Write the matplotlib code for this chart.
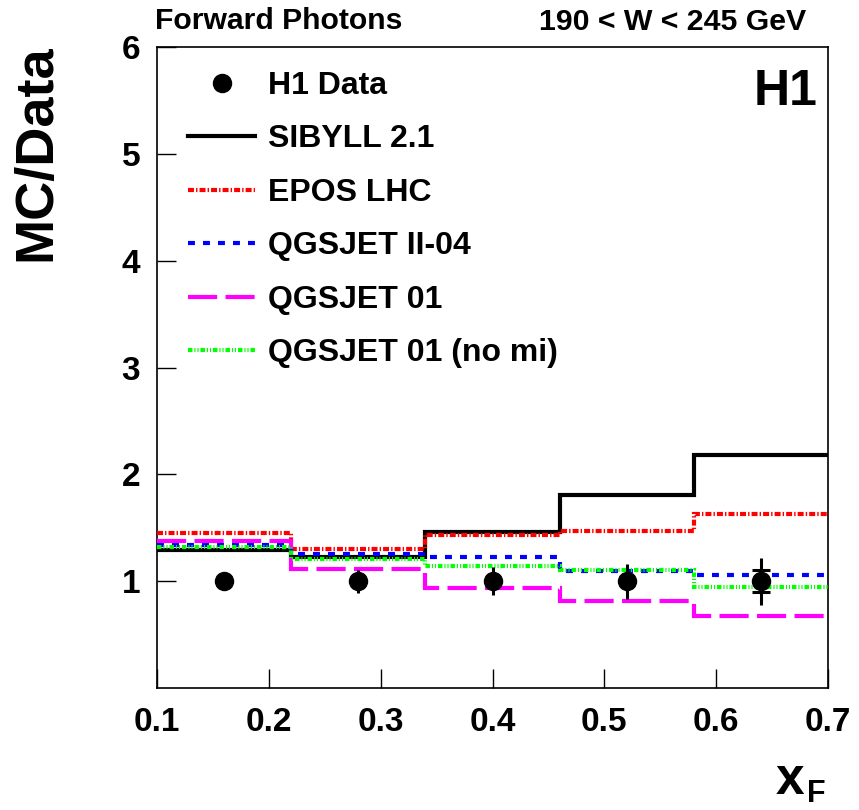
import matplotlib
matplotlib.use("Agg")
import matplotlib.pyplot as plt
import numpy as np

plt.rcParams['font.family'] = ['Liberation Sans', 'DejaVu Sans']
plt.rcParams['font.weight'] = 'bold'
plt.rcParams['lines.scale_dashes'] = False

# ---- data ----
bin_edges = [0.10, 0.22, 0.34, 0.46, 0.58, 0.70]
data_x = [0.16, 0.28, 0.40, 0.52, 0.64]
data_y = [1.0, 1.0, 1.0, 1.0, 1.0]
data_err_tot = [0.04, 0.107, 0.13, 0.165, 0.22]
data_err_stat = [0.0, 0.0, 0.0, 0.0, 0.10]

sibyll = [1.29, 1.23, 1.458, 1.81, 2.18]
epos = [1.454, 1.30, 1.435, 1.47, 1.63]
qgsjet2 = [1.336, 1.255, 1.23, 1.095, 1.055]
qgsjet01 = [1.38, 1.117, 0.94, 0.817, 0.677]
qgsjet01_nomi = [1.32, 1.21, 1.14, 1.105, 0.95]

series_labels = ["SIBYLL 2.1", "EPOS LHC", "QGSJET II-04", "QGSJET 01", "QGSJET 01 (no mi)"]
x_ticks = [0.1, 0.2, 0.3, 0.4, 0.5, 0.6, 0.7]
y_ticks = [1, 2, 3, 4, 5, 6]

fig = plt.figure(figsize=(8.59, 8.10), dpi=100)
ax = fig.add_axes([157/859, 1-688/810, (828-157)/859, (688-47)/810])

styles = [
    dict(color='black', linestyle='-', lw=3.0),
    dict(color='#ff0000', linestyle=(0, (4.3, 1.5, 1.0, 1.5)), lw=3.0),
    dict(color='#0000ff', linestyle=(0, (5.0, 5.8)), lw=3.0),
    dict(color='#ff00ff', linestyle=(0, (21, 6)), lw=3.0),
    dict(color='#00ff00', linestyle=(0, (3.2, 1.4, 0.8, 1.4, 0.8, 1.4)), lw=3.0),
]
handles = []
for vals, lab, st in zip([sibyll, epos, qgsjet2, qgsjet01, qgsjet01_nomi], series_labels, styles):
    ax.stairs(vals, bin_edges, baseline=None, **st, zorder=3)
    h, = ax.plot([], [], label=lab, **st)
    handles.append(h)

# data
ax.errorbar(data_x, data_y, yerr=data_err_tot, fmt='none', ecolor='black', elinewidth=2.2, capsize=0, zorder=5)
ax.errorbar(data_x, data_y, yerr=data_err_stat, fmt='none', ecolor='black', elinewidth=2.2, capsize=6.5, capthick=2.2, zorder=5)
hd, = ax.plot(data_x, data_y, 'o', color='black', markersize=13, zorder=6, label='H1 Data', linestyle='none')

ax.set_xlim(0.1, 0.7)
ax.set_ylim(0, 6)
ax.set_xticks(x_ticks)
ax.set_xticklabels([f"{t:.1f}" for t in x_ticks])
ax.set_yticks(y_ticks)
ax.set_yticklabels([str(t) for t in y_ticks])
ax.tick_params(axis='both', direction='in', length=14, width=1.0, labelsize=24)
ax.tick_params(axis='x', pad=14)
ax.tick_params(axis='y', pad=12)
for lbl in ax.get_xticklabels() + ax.get_yticklabels():
    lbl.set_fontweight('bold')
for s in ax.spines.values():
    s.set_linewidth(1.2)

leg = ax.legend([hd] + handles, ['H1 Data'] + series_labels, loc='upper left',
                bbox_to_anchor=(31/671, 1-24/641), frameon=False,
                handlelength=2.1, handletextpad=0.42, labelspacing=0.735, borderpad=0,
                borderaxespad=0, prop={'weight': 'bold', 'size': 23})

ax.text(0.985, 0.965, 'H1', transform=ax.transAxes, ha='right', va='top', fontsize=36, fontweight='bold')

fig.text(155/859, 1-29/810, 'Forward Photons', ha='left', va='baseline', fontsize=21.7, fontweight='bold')
fig.text(806/859, 1-30/810, '190 < W < 245 GeV', ha='right', va='baseline', fontsize=21.8, fontweight='bold')
fig.text(36/859, 1-44/810, 'MC/Data', rotation=90, ha='center', va='top', fontsize=39, fontweight='bold')
fig.text(776/859, 1-794/810, 'x', ha='left', va='baseline', fontsize=37, fontweight='bold')
fig.text(807/859, 1-802/810, 'F', ha='left', va='baseline', fontsize=22, fontweight='bold')

fig.savefig('out.png', dpi=100)
